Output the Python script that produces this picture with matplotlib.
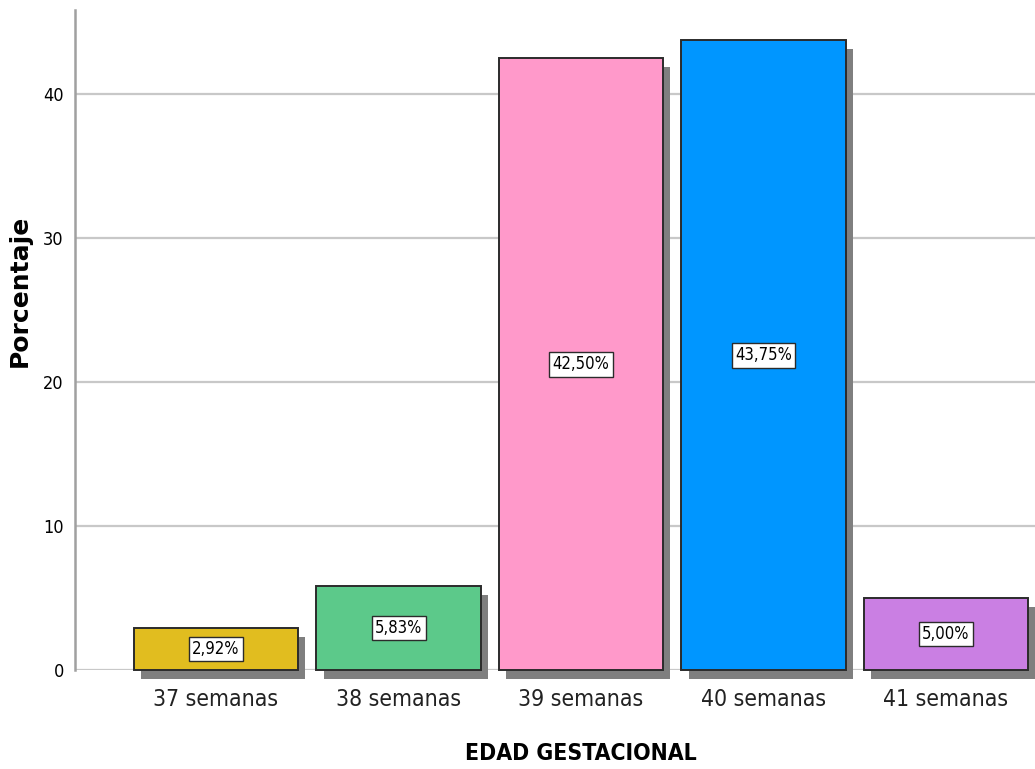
import matplotlib
matplotlib.use("Agg")
import matplotlib.pyplot as plt
import matplotlib.patheffects as pe

# Gestational age distribution (percent of cases)
categories = ["37 semanas", "38 semanas", "39 semanas", "40 semanas", "41 semanas"]
percentages = [2.92, 5.83, 42.50, 43.75, 5.00]
bar_colors = ["#E1BD1F", "#5CC98A", "#FF99CA", "#0096FF", "#CA7FE3"]
y_ticks = [0, 10, 20, 30, 40]

NARROW = dict(family="DejaVu Sans", stretch="condensed")

fig = plt.figure(figsize=(10.35, 7.69), dpi=100)
ax = fig.add_axes([75 / 1035, 1 - 670 / 769, 1 - 75 / 1035, (670 - 10) / 769])

positions = list(range(len(categories)))
shadow = [pe.SimplePatchShadow(offset=(5.2, -6.5), shadow_rgbFace="#7F7F7F", alpha=1.0), pe.Normal()]
bars = ax.bar(positions, percentages, width=0.9, color=bar_colors,
              edgecolor="#2B2B2B", linewidth=1.4, zorder=3, clip_on=False)
for b in bars:
    b.set_path_effects(shadow)

for x, v in zip(positions, percentages):
    ax.text(x, v / 2, f"{v:.2f}".replace(".", ",") + "%", ha="center", va="center",
            fontsize=12, color="black", zorder=5, **NARROW,
            bbox=dict(boxstyle="square,pad=0.2", facecolor="white", edgecolor="#2B2B2B", linewidth=1.0))

x_lo, x_hi = -0.773, 4.488
ax.set_xlim(x_lo, x_hi)
ax.set_ylim(0, 45.86)
ax.set_yticks(y_ticks)
ax.set_yticklabels([str(t) for t in y_ticks], fontsize=13, **NARROW)
ax.set_xticks(positions)
ax.set_xticklabels(categories, fontsize=16.5, color="#222222", **NARROW)
ax.tick_params(axis="both", length=0)
ax.tick_params(axis="x", pad=13)
ax.tick_params(axis="y", pad=8)

ax.grid(axis="y", color="#C8C8C8", linewidth=1.6, zorder=0)
ax.set_axisbelow(True)
for s in ["top", "right", "bottom"]:
    ax.spines[s].set_visible(False)
ax.spines["left"].set_color("#A0A0A0")
ax.spines["left"].set_linewidth(1.8)

ax.set_ylabel("Porcentaje", fontsize=18, fontweight="bold", family="DejaVu Sans")
ax.yaxis.set_label_coords(-43 / 960, (670 - 291) / 660)
ax.set_xlabel("EDAD GESTACIONAL", fontsize=16.5, fontweight="bold", labelpad=22, **NARROW)
ax.xaxis.label.set_x((2 - x_lo) / (x_hi - x_lo))

fig.savefig("out.png", dpi=100)
